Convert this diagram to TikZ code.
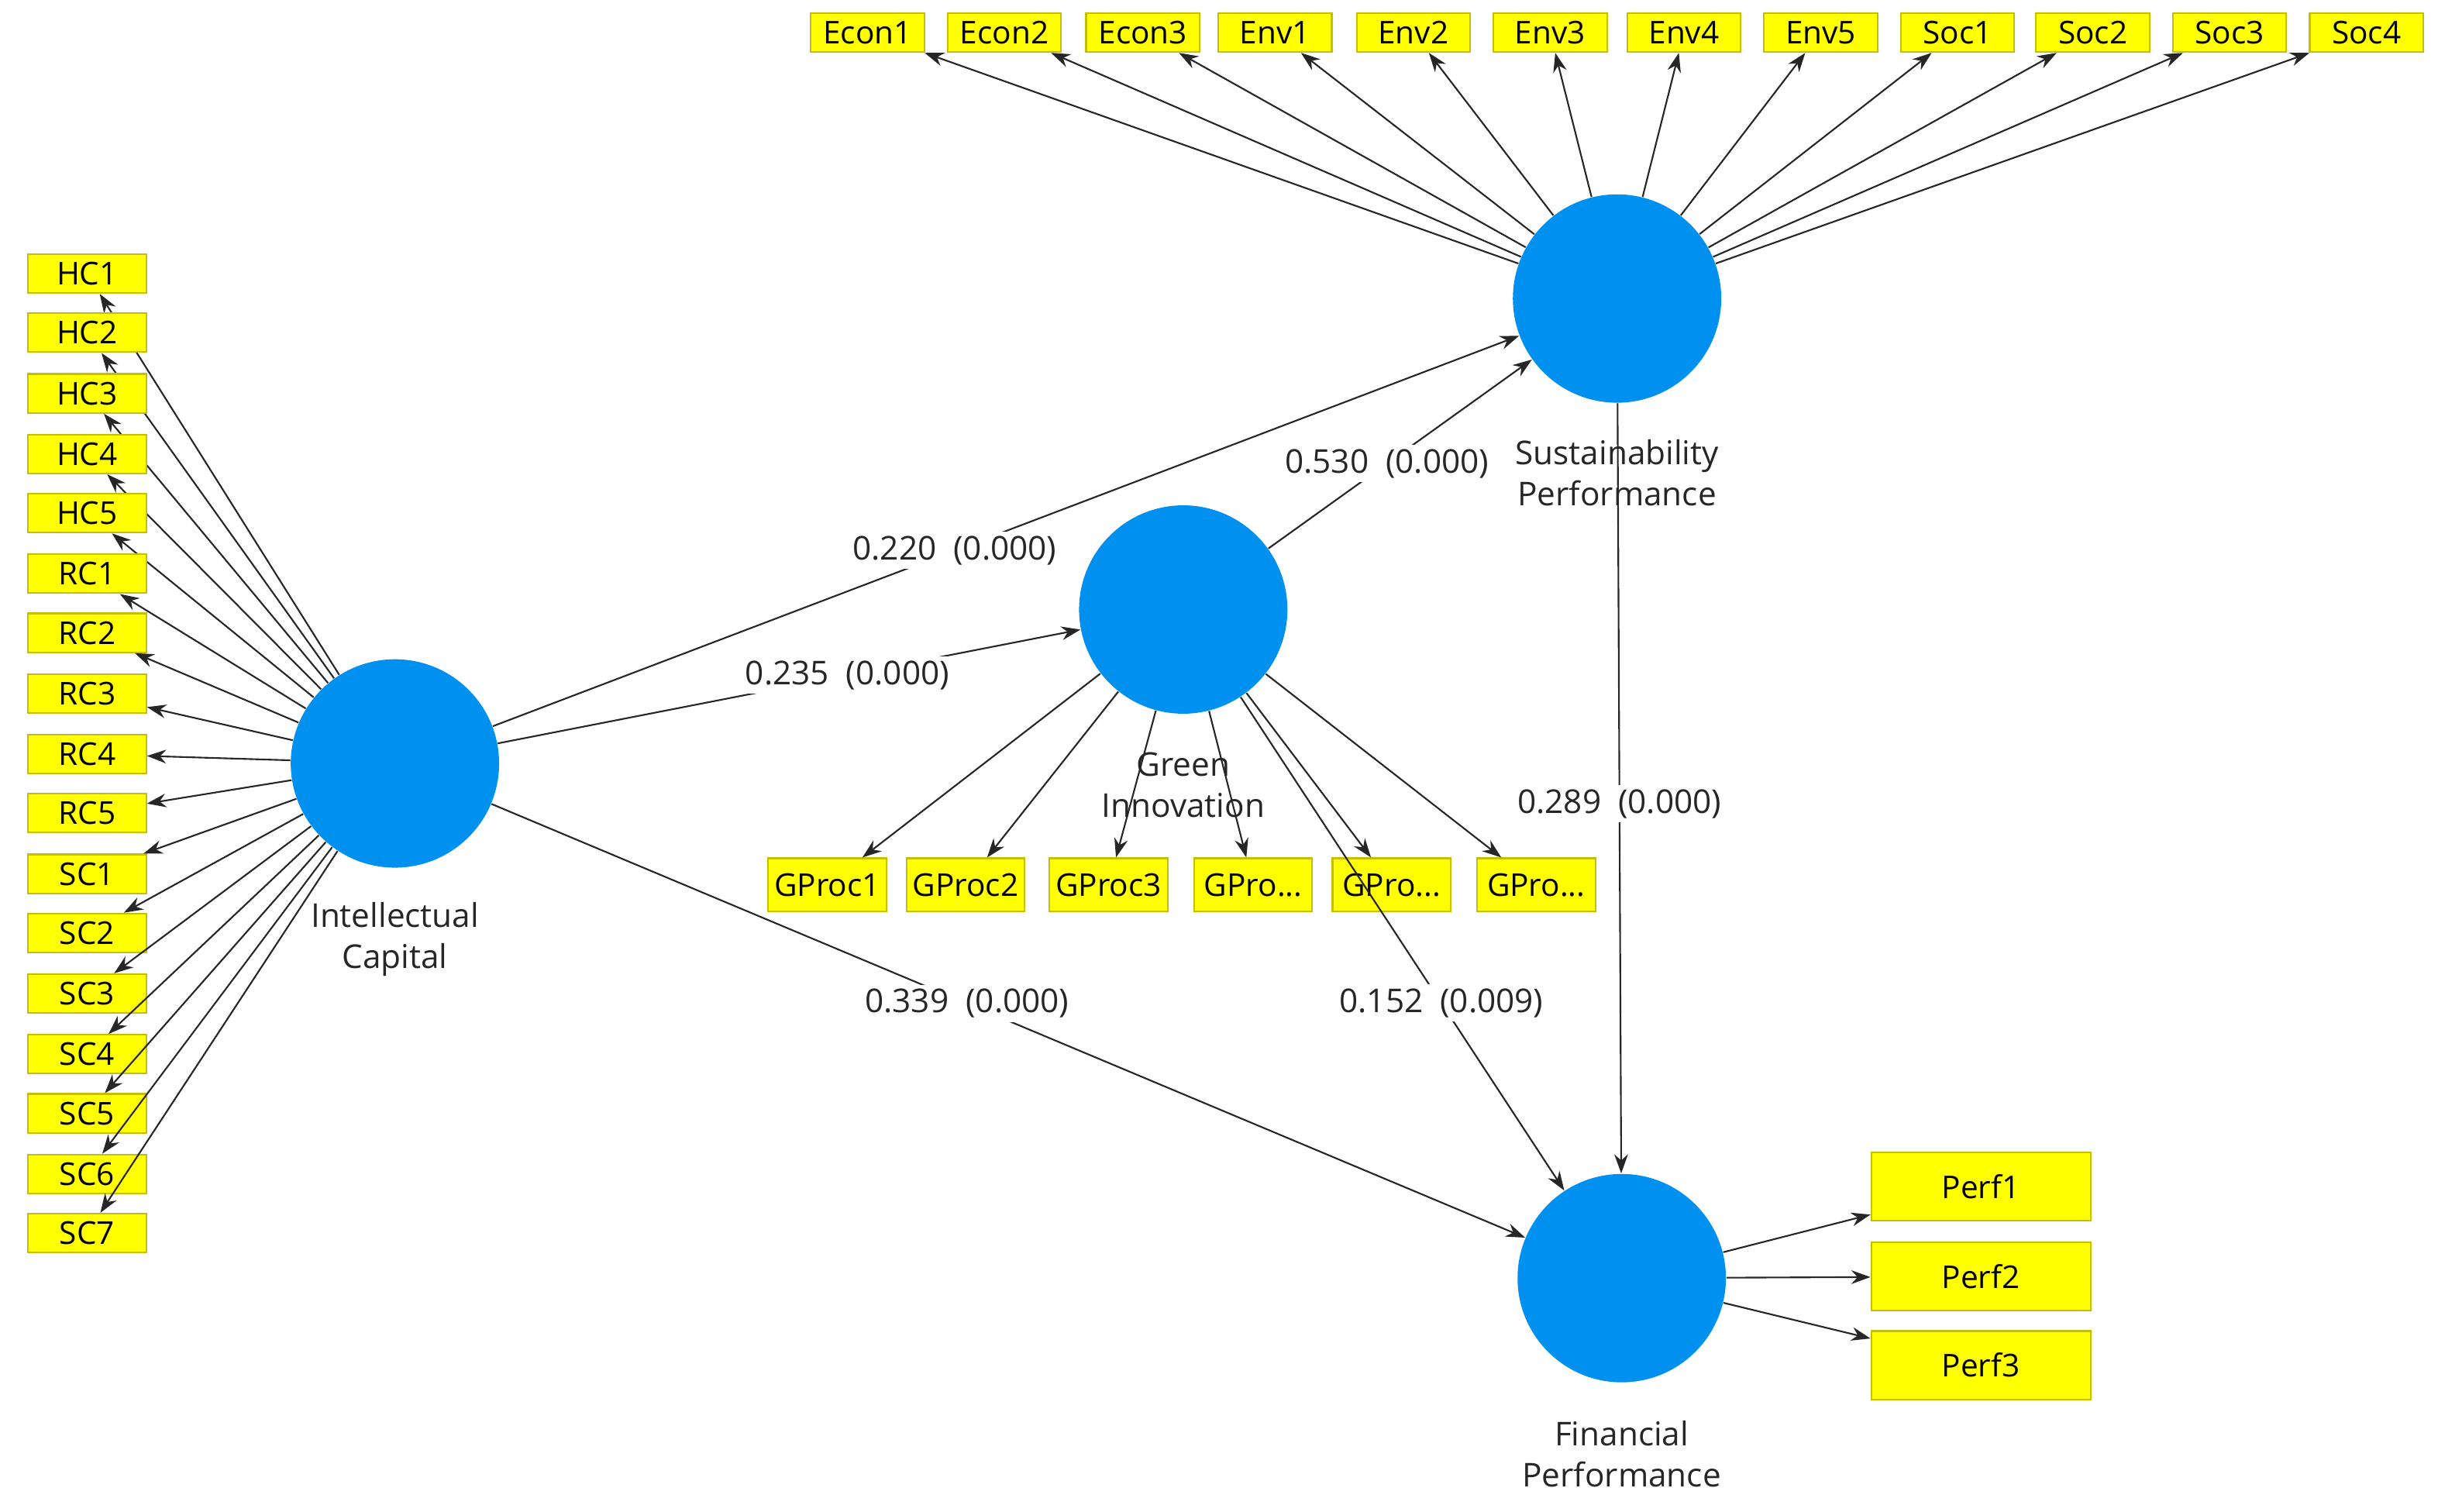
\documentclass[tikz,border=0pt]{standalone}
\usepackage{fontspec}
\setmainfont{Open Sans}
\usetikzlibrary{arrows.meta}
\definecolor{lv}{RGB}{0,145,240}
\definecolor{ybox}{RGB}{255,255,0}
\definecolor{ybrd}{RGB}{200,190,0}
\newcommand\gpdots{GPro...}
\begin{document}
\begin{tikzpicture}[x=0.02cm,y=-0.02cm,
 lat/.style={circle,fill=lv,draw=none,minimum size=134*0.02cm,inner sep=0},
 ind/.style={rectangle,fill=ybox,draw=ybrd,line width=0.6pt,minimum width=76*0.02cm,minimum height=25*0.02cm,inner sep=1pt,font=\fontsize{11.5}{12}\selectfont},
 gind/.style={ind,minimum height=34*0.02cm},
 pind/.style={ind,minimum width=141*0.02cm,minimum height=44*0.02cm},
 lbl/.style={font=\fontsize{12}{15}\selectfont,align=center,text=black!85},
 coef/.style={font=\fontsize{12}{14}\selectfont,fill=white,inner sep=1.5pt,text=black!85},
 arr/.style={-{Stealth[length=7pt,width=5pt]},line width=0.6pt,black!85}]
\useasboundingbox (0,0) rectangle (1568,972);
% latent
\node[lat] (ic) at (254,491) {};
\node[lat] (gi) at (761,392) {};
\node[lat] (sp) at (1040,192) {};
\node[lat] (fp) at (1043,822) {};
\node[lbl] (icl) at (254,604) {Intellectual\\Capital};
\node[lbl] (gil) at (761,505) {Green\\Innovation};
\node[lbl] (spl) at (1040,304) {Sustainability\\Performance};
\node[lbl] (fpl) at (1043,935) {Financial\\Performance};
% left indicators
\foreach \n/\y in {HC1/176,HC2/214,HC3/253,HC4/292,HC5/330,RC1/369,RC2/407,RC3/446,RC4/485,RC5/523,SC1/562,SC2/600,SC3/639,SC4/678,SC5/716,SC6/755,SC7/793}{
 \node[ind] (\n) at (56,\y) {\n};
 \draw[arr] (ic) -- (\n);
}
% top indicators
\foreach \n/\x in {Econ1/558,Econ2/646,Econ3/735,Env1/820,Env2/909,Env3/997,Env4/1083,Env5/1171,Soc1/1259,Soc2/1346,Soc3/1434,Soc4/1522}{
 \node[ind,minimum width=73*0.02cm] (\n) at (\x,21) {\n};
 \draw[arr] (sp) -- (\n);
}
% GI indicators
\node[gind] (g1) at (532,569) {GProc1};
\node[gind] (g2) at (621,569) {GProc2};
\node[gind] (g3) at (713,569) {GProc3};
\node[gind] (g4) at (806,569) {\gpdots};
\node[gind] (g5) at (895,569) {\gpdots};
\node[gind] (g6) at (988,569) {\gpdots};
\foreach \n in {g1,g2,g3,g4,g5,g6}{ \draw[arr] (gi) -- (\n); }
% FP indicators
\foreach \n/\y in {Perf1/763,Perf2/821,Perf3/878}{
 \node[pind] (\n) at (1274,\y) {\n};
 \draw[arr] (fp) -- (\n);
}
% structural
\draw[arr] (ic) -- node[coef,pos=0.45] {0.220\ \ (0.000)} (sp);
\draw[arr] (ic) -- node[coef,pos=0.6] {0.235\ \ (0.000)} (gi);
\draw[arr] (gi) -- node[coef,pos=0.45] {0.530\ \ (0.000)} (sp);
\draw[arr] (sp) -- node[coef,pos=0.52] {0.289\ \ (0.000)} (fp);
\draw[arr] (ic) -- node[coef,pos=0.46] {0.339\ \ (0.000)} (fp);
\draw[arr] (gi) -- node[coef,pos=0.62] {0.152\ \ (0.009)} (fp);
\end{tikzpicture}
\end{document}
